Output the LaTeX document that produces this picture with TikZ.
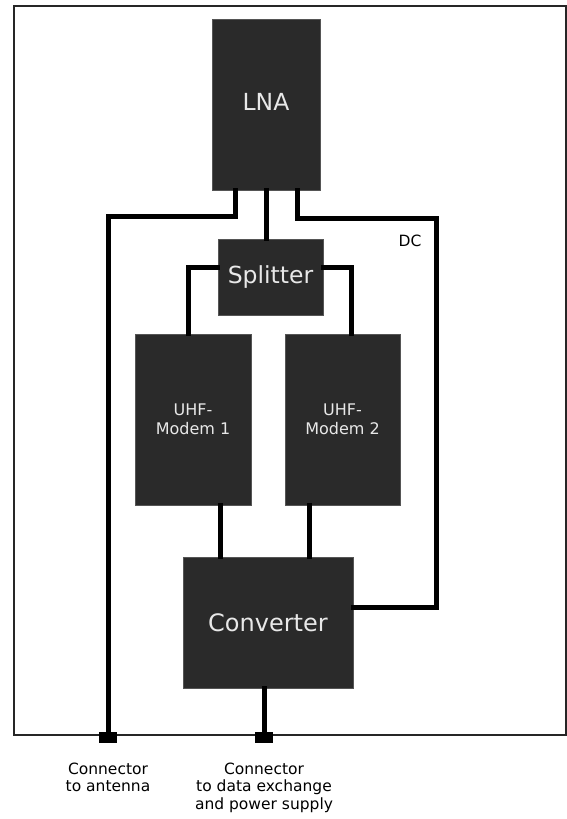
\documentclass[tikz,border=0pt]{standalone}
\usepackage{fontspec}
\setmainfont{DejaVu Sans}
\usepackage{tikz}
\usetikzlibrary{positioning, calc}
\usepackage{xcolor}
\definecolor{blockgray}{HTML}{2A2A2A}
\definecolor{blocktext}{HTML}{E8E8E8}

\begin{document}
\begin{tikzpicture}[x=1pt, y=-1pt,
                  block/.style={draw=blockgray!80!white, fill=blockgray, text=blocktext,
                              inner sep=0pt, align=center},
                  wire/.style={line width=5pt, line cap=rect},
                  frame/.style={draw=black!85, line width=2pt},
                  plug/.style={fill=black, inner sep=0pt, minimum width=18pt, minimum height=11pt},
                  lbl/.style={inner sep=0pt, align=center, font=\fontsize{15.5}{17.5}\selectfont},
                  node distance=20pt,
            ]
            \useasboundingbox (0,0) rectangle (567,819);
            \draw[frame] (14,6) rectangle (566,735);

            \node[block, minimum width=108pt, minimum height=171pt,
                  font=\fontsize{23.5}{27}\selectfont] (lna) at (266,104.5) {\raisebox{5pt}{LNA}};
            \node[block, minimum width=105pt, minimum height=76pt,
                  font=\fontsize{23.5}{27}\selectfont] (split) at (270.5,277) {Splitter};
            \node[block, minimum width=116pt, minimum height=171pt,
                  font=\fontsize{16}{19}\selectfont] (modA) at (193,419.5) {UHF-\\Modem 1};
            \node[block, minimum width=115pt, minimum height=171pt,
                  font=\fontsize{16}{19}\selectfont] (modB) at (342.5,419.5) {UHF-\\Modem 2};
            \node[block, minimum width=170pt, minimum height=131pt,
                  font=\fontsize{24}{28}\selectfont] (conv) at (268,622.5) {Converter};

            \node[plug] (antcon) at (108,737) {};
            \node[plug] (datcon) at (264,737) {};
            \coordinate (dcturn) at (436,607);

            \node[lbl, below=of antcon] (antlbl) {Connector\\to antenna};
            \node[lbl, below=of datcon] (datlbl) {Connector\\to data exchange\\and power supply};
            \node[font=\fontsize{15.5}{18}\selectfont, inner sep=0pt] (dc) at (410,241) {DC};

            \draw[wire] ([xshift=-31pt]lna.south) -- ++(0,26) -| (antcon.north);
            \draw[wire] (lna.south) -- (lna.south |- split.north);
            \draw[wire] ([xshift=31pt]lna.south) -- ++(0,28) -| (dcturn) -- (conv.east |- dcturn);
            \draw[wire] ([yshift=10pt]split.west) -| ([xshift=-5pt]modA.north);
            \draw[wire] ([yshift=10pt]split.east) -| ([xshift=8.5pt]modB.north);
            \draw[wire] ([xshift=27pt]modA.south) -- ([xshift=27pt]modA.south |- conv.north);
            \draw[wire] ([xshift=-33.5pt]modB.south) -- ([xshift=-33.5pt]modB.south |- conv.north);
            \draw[wire] (conv.south -| datcon) -- (datcon.north);
      \end{tikzpicture}
\end{document}
